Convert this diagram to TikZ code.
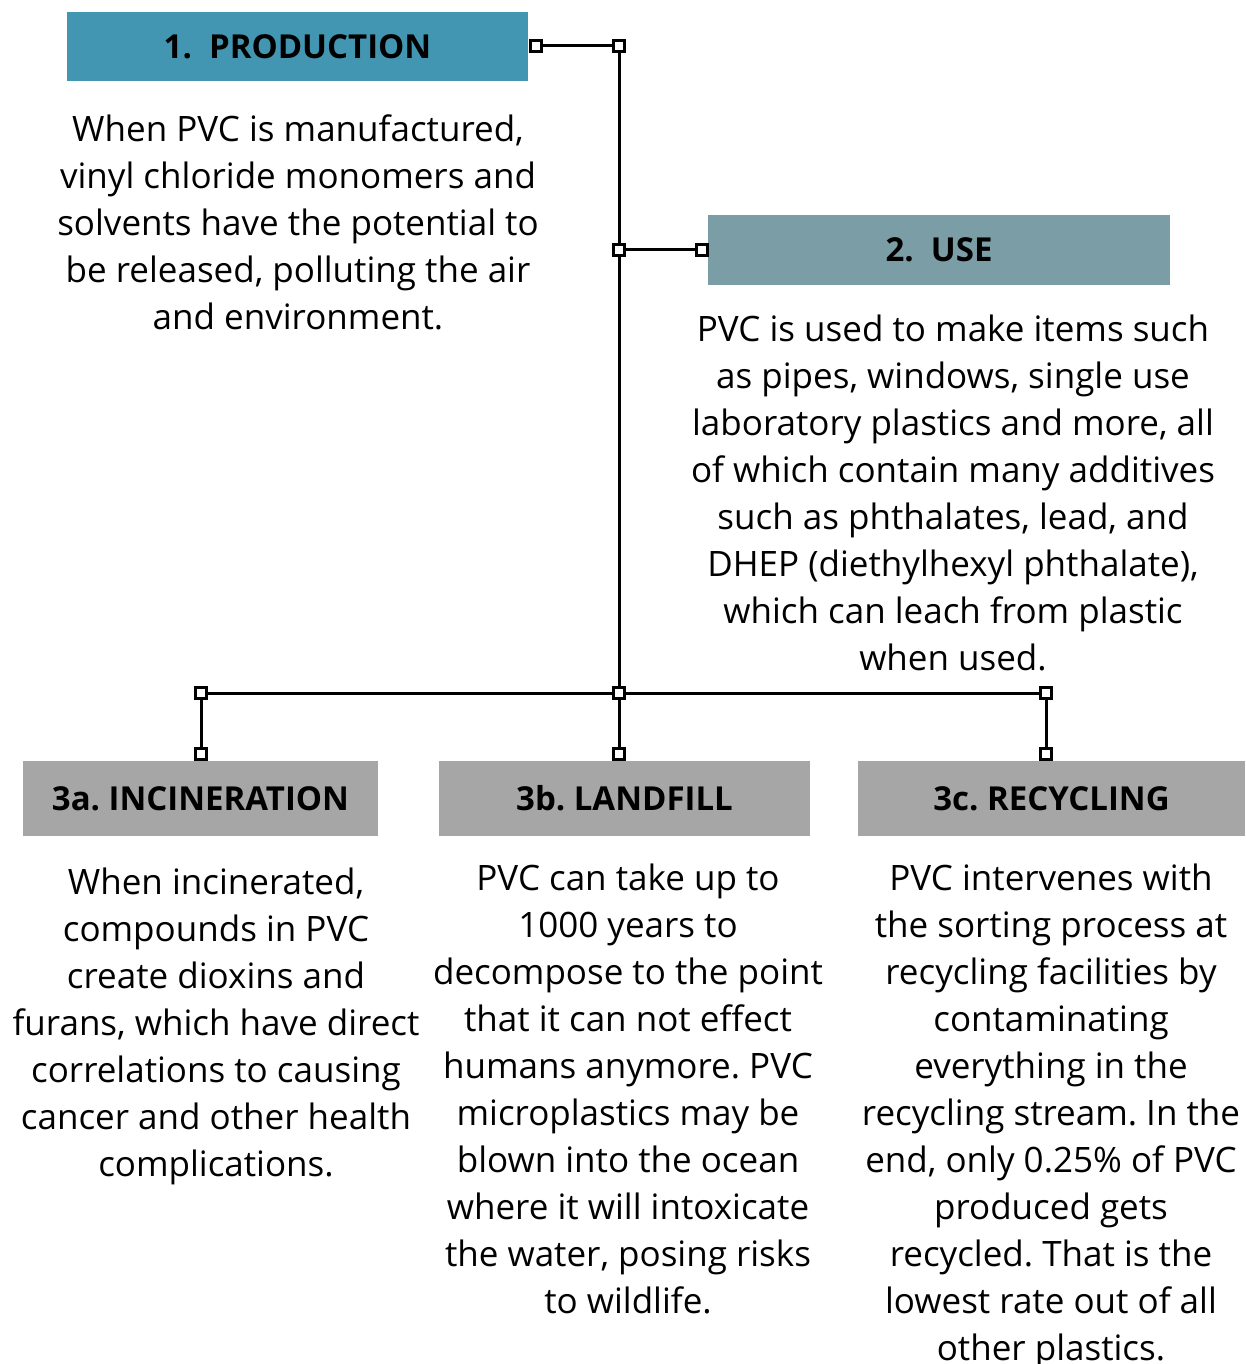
\documentclass[tikz,border=0pt]{standalone}
\usepackage{fontspec}
\setmainfont{Open Sans}
\frenchspacing
\definecolor{cprod}{RGB}{67,150,178}
\definecolor{cuse}{RGB}{123,158,166}
\definecolor{cgray}{RGB}{166,166,166}
\begin{document}
\begin{tikzpicture}[x=1pt,y=-1pt,
  hdr/.style={rectangle, inner sep=0pt, font=\fontsize{33}{38}\selectfont\bfseries, text=black},
  body/.style={inner sep=0pt, align=center, anchor=north, font=\fontsize{35}{47}\selectfont},
  sq/.style={rectangle, draw=black, fill=white, line width=2.6pt, minimum size=11pt, inner sep=0pt},
  ln/.style={draw=black, line width=3pt}]
\useasboundingbox[fill=white] (0,0) rectangle (1245,1364);

% headers
\node[hdr, fill=cprod, minimum width=461pt, minimum height=69pt] (prod) at (297.5,46.5) {1.\ \ PRODUCTION};
\node[hdr, fill=cuse, minimum width=462pt, minimum height=70pt] (use) at (939,250) {2.\ \ USE};
\node[hdr, fill=cgray, minimum width=355pt, minimum height=75pt] (inc) at (200.5,798.5) {3a. INCINERATION};
\node[hdr, fill=cgray, minimum width=371pt, minimum height=75pt] (land) at (624.5,798.5) {3b. LANDFILL};
\node[hdr, fill=cgray, minimum width=387pt, minimum height=75pt] (rec) at (1051.5,798.5) {3c. RECYCLING};

% connector squares
\node[sq] (s1) at (536,46) {};
\node[sq] (s2) at (619,46) {};
\node[sq] (s3) at (619,250) {};
\node[sq] (s4) at (702,250) {};
\node[sq] (h1) at (201,693) {};
\node[sq] (h2) at (619,693) {};
\node[sq] (h3) at (1046,693) {};
\node[sq] (b1) at (201,754) {};
\node[sq] (b2) at (619,754) {};
\node[sq] (b3) at (1046,754) {};

% connectors
\draw[ln] (s1) -- (s2);
\draw[ln] (s2) -- (s3);
\draw[ln] (s3) -- (s4);
\draw[ln] (s3) -- (h2);
\draw[ln] (h1) -- (h2);
\draw[ln] (h2) -- (h3);
\draw[ln] (h1) -- (b1);
\draw[ln] (h2) -- (b2);
\draw[ln] (h3) -- (b3);

% texts
\node[body] (tprod) at (298,115) {When PVC is manufactured,\\vinyl chloride monomers and\\solvents have the potential to\\be released, polluting the air\\and environment.};
\node[body] (tuse) at (953,315) {PVC is used to make items such\\as pipes, windows, single use\\laboratory plastics and more, all\\of which contain many additives\\such as phthalates, lead, and\\DHEP (diethylhexyl phthalate),\\which can leach from plastic\\when used.};
\node[body] (tinc) at (216,868) {When incinerated,\\compounds in PVC\\create dioxins and\\furans, which have direct\\correlations to causing\\cancer and other health\\complications.};
\node[body] (tland) at (628,864) {PVC can take up to\\1000 years to\\decompose to the point\\that it can not effect\\humans anymore. PVC\\microplastics may be\\blown into the ocean\\where it will intoxicate\\the water, posing risks\\to wildlife.};
\node[body] (trec) at (1051,864) {PVC intervenes with\\the sorting process at\\recycling facilities by\\contaminating\\everything in the\\recycling stream. In the\\end, only 0.25\% of PVC\\produced gets\\recycled. That is the\\lowest rate out of all\\other plastics.};
\end{tikzpicture}
\end{document}
